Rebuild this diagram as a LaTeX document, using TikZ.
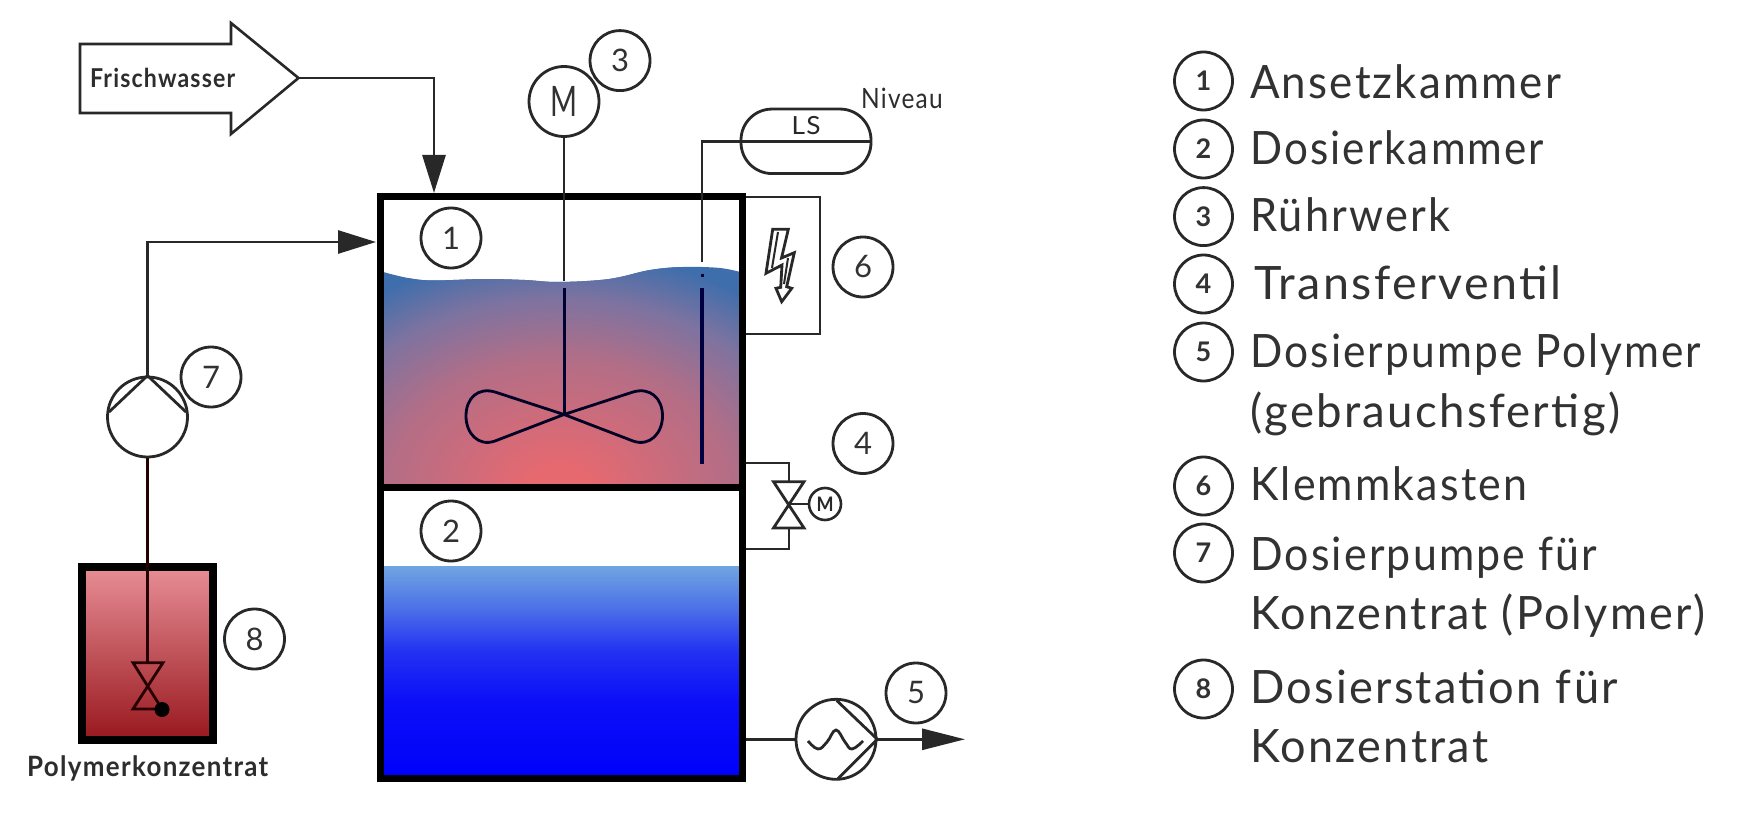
\documentclass[tikz,border=0pt]{standalone}
\usepackage{fontspec}
\usepackage{graphicx}
\setmainfont{Lato}[LetterSpace=5]
\usetikzlibrary{arrows.meta,calc}
\definecolor{ink}{RGB}{40,40,40}
\definecolor{txt}{RGB}{50,50,50}
\definecolor{labc}{RGB}{45,45,45}
\definecolor{mixA}{RGB}{230,105,112}
\definecolor{mixB}{RGB}{178,110,135}
\definecolor{mixC}{RGB}{125,115,160}
\definecolor{mixD}{RGB}{62,110,172}
\definecolor{lowT}{RGB}{112,165,225}
\definecolor{lowR}{RGB}{75,110,232}
\definecolor{lowM}{RGB}{35,50,242}
\definecolor{lowS}{RGB}{12,15,248}
\definecolor{lowB}{RGB}{0,0,250}
\definecolor{concT}{RGB}{232,142,150}
\definecolor{concM}{RGB}{192,72,80}
\definecolor{concB}{RGB}{152,24,30}
\pgfdeclareradialshading{mixwater}{\pgfpoint{0bp}{0bp}}{color(0bp)=(mixA); color(2.5bp)=(mixA); color(13.75bp)=(mixB); color(20bp)=(mixC); color(25bp)=(mixD); color(50bp)=(mixD)}
\pgfdeclareverticalshading{lowwater}{100bp}{color(0bp)=(lowB); color(25bp)=(lowB); color(43.4bp)=(lowS); color(55bp)=(lowM); color(64.6bp)=(lowR); color(75bp)=(lowT); color(100bp)=(lowT)}
\newcommand{\fit}[2]{\resizebox{#1pt}{\height}{#2}}
\newcommand{\fs}[1]{\fontsize{#1pt}{#1pt}\selectfont}
\tikzset{
  pipe/.style={draw=ink,line width=2.8pt,line join=miter},
  thinshape/.style={draw=ink,line width=2.6pt,fill=white},
  numc/.style={circle,draw=ink,line width=2.8pt,minimum size=60pt,inner sep=0pt,text=txt,font=\fs{31}},
  legc/.style={circle,draw=ink,line width=2.8pt,minimum size=58pt,inner sep=0pt,text=txt,font=\fs{27}\bfseries},
  legt/.style={anchor=base west,inner sep=0pt,text=txt,font=\fs{46}},
  lab/.style={anchor=base west,inner sep=0pt,text=labc},
  flow/.style={pipe,-{Triangle[length=38pt,width=23pt,sep=0pt]}},
  pumpc/.style={circle,draw=ink,line width=2.8pt,minimum size=80pt,inner sep=0pt,fill=none},
  wet/.style={line width=3pt,draw=black!80!blue},
}
\begin{document}
\begin{tikzpicture}[x=1pt,y=-1pt]
\useasboundingbox (0,0) rectangle (1750,813);
\fill[white] (0,0) rectangle (1750,813);
% fluids
\begin{scope}
  \clip plot[smooth,tension=.6] coordinates {(380,271)(422,280)(484,279)(525,280)(559,282)(609,279)(650,270)(683,267)(720,268)(744,273)} -- (744,490) -- (380,490) -- cycle;
  \fill[mixD] (378,255) rectangle (746,492);
  \shade[shading=mixwater] (559,490) ellipse (320pt and 240pt);
\end{scope}
\shade[shading=lowwater] (380,566) rectangle (742,778);
\shade[top color=concT,middle color=concM,bottom color=concB] (82,566) rectangle (213,740);
% vessel
\node[draw=black,line width=7pt,minimum width=362pt,minimum height=581.5pt,inner sep=0pt] (tank) at (561,487.75) {};
\draw[black,line width=7pt] (tank.center -| tank.west) -- (tank.center -| tank.east);
\node[draw=black,line width=8pt,minimum width=131pt,minimum height=173pt,inner sep=0pt] (station) at (147.5,653) {};
% fresh water
\coordinate (fwtip) at (298.5,78);
\coordinate (fwin) at (434,193);
\draw[thinshape] (80,44) -- (231,44) -- (231,23) -- (fwtip) -- (231,134) -- (231,113) -- (80,113) -- cycle;
\node[lab,font=\fs{26}\bfseries] (fw) at (90,88) {\fit{145}{Frischwasser}};
\draw[flow] (fwtip) -| (fwin);
% pump 7
\node[pumpc] (pump7) at (147.5,417) {};
\draw[pipe] (109,412) -- (pump7.north) -- (186,412);
\coordinate (p7in) at (376,242);
\draw[flow] (pump7.north) |- (p7in);
\coordinate (v7a) at (147.5,662.7);
\coordinate (v7b) at (147.5,709);
\draw[pipe,draw=black!85!red] (pump7.south) -- (v7a);
\draw[line width=2.8pt,draw=black!85!red,line join=miter] (133,662.7) -- (163,662.7) -- (133,709) -- (162,709) -- cycle;
\node[circle,fill=black,minimum size=15pt,inner sep=0pt] (ball) at (162,709.5) {};
\node[lab,font=\fs{28}\bfseries] (pk) at (27,776) {\fit{241}{Polymerkonzentrat}};
% motor and stirrer
\node[circle,draw=ink,line width=2.8pt,minimum size=70pt,inner sep=0pt,text=txt,font=\fs{42}] (motor) at (564,101.5) {\fit{27}{M}};
\coordinate (shaftA) at (564,281);
\coordinate (shaftB) at (564,288);
\coordinate (hub) at (564,414.5);
\draw[pipe] (motor.south) -- (shaftA);
\draw[wet] (shaftB) -- (hub);
\draw[line width=2.8pt,draw=black!85!blue] (hub) -- (495,392) .. controls (478,387) and (466,398) .. (466,416) .. controls (466,433) and (478,447) .. (495,441) -- (hub) -- (633,392) .. controls (650,387) and (662.5,398) .. (662.5,416) .. controls (662.5,433) and (650,447) .. (633,441) -- cycle;
% level switch
\node[draw=ink,line width=2.8pt,rounded corners=31pt,minimum width=130pt,minimum height=64.5pt,inner sep=0pt] (ls) at (806,141.3) {};
\node[inner sep=0pt,text=ink,font=\fs{25}] (lst) at (806,126) {\fit{29}{LS}};
\node[lab,font=\fs{28}] (niv) at (861,109) {\fit{81.5}{Niveau}};
\coordinate (lsA) at (702,262);
\coordinate (lsB) at (702,288);
\coordinate (lsC) at (702,464);
\draw[pipe] (ls.east) -- (lsA |- ls.east) -- (lsA);
\draw[wet] (702,273.5) -- (702,277);
\draw[line width=3.8pt,draw=black!75!blue] (lsB) -- (lsC);
% terminal box
\coordinate (boxA) at (tank.east |- 0,197);
\coordinate (boxB) at (tank.east |- 0,334);
\draw[pipe] (boxA) -- (820,197) -- (820,334) -- (boxB);
\draw[ink,line width=2.8pt,line join=miter] (772.7,229.3) -- (788.3,229.3) -- (781.5,258) -- (794.3,252.7) -- (786.7,286.7) -- (791.7,288.3) -- (781.7,301.7) -- (776,288.3) -- (780.7,287.3) -- (782,265) -- (766,273.3) -- cycle;
\draw[ink,line width=2pt] (778,232) -- (772,268) (788,258) -- (784,284);
% transfer valve
\coordinate (tvA) at (tank.east |- 0,463);
\coordinate (tvB) at (tank.east |- 0,549);
\coordinate (tvT) at (789,481.7);
\coordinate (tvL) at (789,528);
\draw[pipe] (tvA) -| (tvT);
\draw[pipe] (tvB) -| (tvL);
\draw[pipe] (773.5,481.7) -- (804,481.7) -- (773.5,528) -- (804,528) -- cycle;
\node[circle,draw=ink,line width=2.6pt,minimum size=32pt,inner sep=0pt,text=ink,font=\fs{20}\bfseries] (tvm) at (825,504) {\fit{17}{M}};
\draw[pipe] (789,504) -- (tvm.west);
% pump 5
\node[pumpc] (pump5) at (836,739.3) {};
\coordinate (p5out) at (965,739.3);
\draw[pipe] (tank.east |- pump5) -- (pump5.west);
\draw[pipe] (836.7,700.5) -- (pump5.east) -- (838,778.5);
\draw[pipe,-{Triangle[length=43pt,width=21pt,sep=0pt]}] (pump5.east) -- (p5out);
\draw[pipe] plot[smooth,tension=.7] coordinates {(808,741)(818,749)(827,742)(836,730)(845,742)(852,749)(863,741)};
% numbers in the scheme
\node[numc] (s1) at (451,238) {1};
\node[numc] (s2) at (451,531) {2};
\node[numc] (s3) at (620,60.6) {3};
\node[numc] (s4) at (863,443.5) {4};
\node[numc] (s5) at (916,693) {5};
\node[numc] (s6) at (863,267) {6};
\node[numc] (s7) at (211,377) {7};
\node[numc] (s8) at (254.5,639) {8};
% legend
\node[legc] (l1) at (1203.5,81) {1};
\node[legc] (l2) at (1203.5,149) {2};
\node[legc] (l3) at (1203.5,216.6) {3};
\node[legc] (l4) at (1203.5,284) {4};
\node[legc] (l5) at (1203.5,352) {5};
\node[legc] (l6) at (1203.5,486) {6};
\node[legc] (l7) at (1203.5,553) {7};
\node[legc] (l8) at (1203.5,689) {8};
\node[legt] (t1) at (1250,98.4) {\fit{311}{Ansetzkammer}};
\node[legt] (t2) at (1250,165) {\fit{294}{Dosierkammer}};
\node[legt] (t3) at (1250,231.6) {\fit{200}{Rührwerk}};
\node[legt] (t4) at (1254,299) {\fit{307}{Transferventil}};
\node[legt] (t5) at (1250,367) {\fit{451}{Dosierpumpe Polymer}};
\node[legt] (t5b) at (1250,427) {\fit{370}{(gebrauchsfertig)}};
\node[legt] (t6) at (1250,500) {\fit{277}{Klemmkasten}};
\node[legt] (t7) at (1250,570) {\fit{347}{Dosierpumpe für}};
\node[legt] (t7b) at (1250,629.5) {\fit{455}{Konzentrat (Polymer)}};
\node[legt] (t8) at (1250,703.6) {\fit{367.7}{Dosierstation für}};
\node[legt] (t8b) at (1250,762.7) {\fit{238}{Konzentrat}};
\end{tikzpicture}
\end{document}
